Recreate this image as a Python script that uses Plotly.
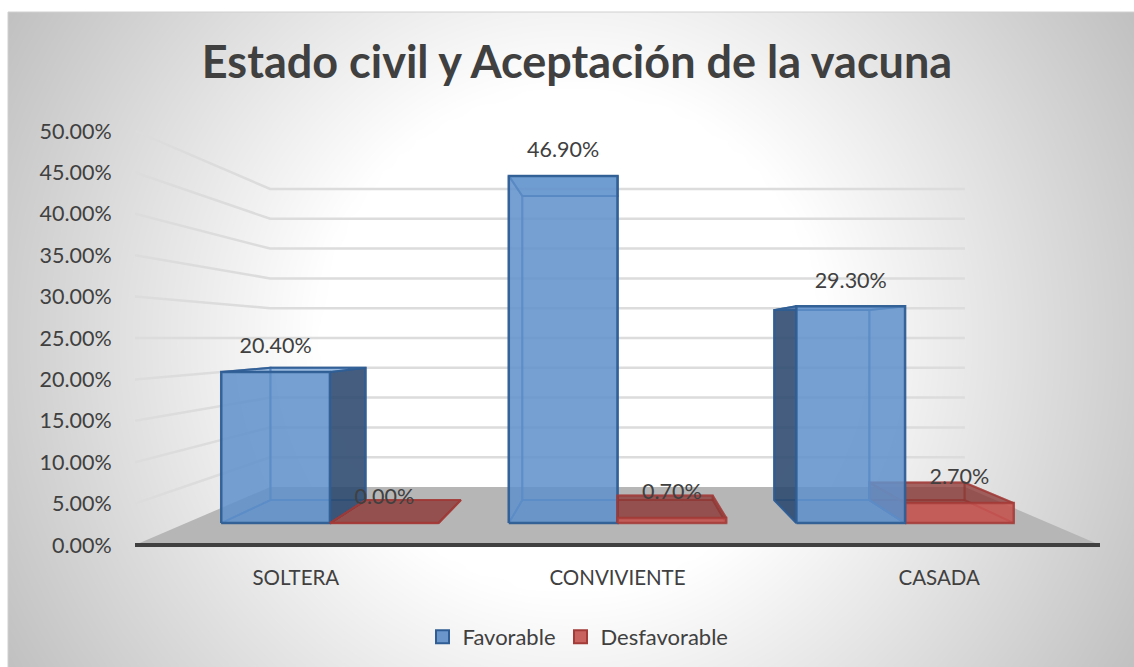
import numpy as np
import plotly.graph_objects as go

CATEGORIAS = ["SOLTERA", "CONVIVIENTE", "CASADA"]
FAVORABLE = [20.4, 46.9, 29.3]
DESFAVORABLE = [0.0, 0.7, 2.7]
TICKS_Y = [0, 5, 10, 15, 20, 25, 30, 35, 40, 45, 50]

TEXTO = "#404040"
FUENTE = "Lato"
ANCHO_BARRA = 0.378
S_BARRA_FRENTE = 0.894
S_BARRA_FONDO = 0.783
S_PARED = 0.72

AZUL = dict(
    frente="rgba(98,146,204,0.82)",
    fondo="rgba(79,129,189,0.25)",
    base="rgba(79,129,189,0.35)",
    tapa="rgba(100,150,210,0.5)",
    lado_ext="rgba(44,72,108,0.85)",
    lado_int="rgba(79,129,189,0.25)",
    borde="rgba(47,93,148,0.9)",
    borde_int="rgba(60,110,175,0.7)",
)
ROJO = dict(
    frente="rgba(200,84,80,0.82)",
    fondo="rgba(150,50,48,0.25)",
    base="rgba(150,50,48,0.35)",
    tapa="rgba(135,50,48,0.65)",
    lado_ext="rgba(120,40,38,0.6)",
    lado_int="rgba(150,50,48,0.3)",
    borde="rgba(163,59,56,0.75)",
    borde_int="rgba(160,55,52,0.5)",
)


# perspectiva: s=1 es el borde frontal del piso, el punto de fuga queda en (centro, 25%)
def punto(c, s, v):
    return 1 + (c - 1) * s, 25 * (1 - s) + s * v


def cara(fig, puntos, relleno, borde, ancho=2):
    xs, ys = zip(*(puntos + puntos[:1]))
    fig.add_trace(
        go.Scatter(
            x=xs,
            y=ys,
            mode="lines",
            fill="toself",
            fillcolor=relleno,
            line=dict(color=borde, width=ancho),
            xaxis="x2",
            yaxis="y2",
            showlegend=False,
            hoverinfo="skip",
            cliponaxis=False,
        )
    )


def linea(fig, xs, ys, color, ancho):
    fig.add_trace(
        go.Scatter(
            x=xs,
            y=ys,
            mode="lines",
            line=dict(color=color, width=ancho),
            xaxis="x2",
            yaxis="y2",
            showlegend=False,
            hoverinfo="skip",
            cliponaxis=False,
        )
    )


def barra(fig, c0, c1, v, col):
    sf, sb = S_BARRA_FRENTE, S_BARRA_FONDO
    cara(fig, [punto(c0, sb, 0), punto(c1, sb, 0), punto(c1, sb, v), punto(c0, sb, v)], col["fondo"], col["borde_int"])
    cara(fig, [punto(c0, sf, 0), punto(c1, sf, 0), punto(c1, sb, 0), punto(c0, sb, 0)], col["base"], col["borde_int"])
    izq_ext = c0 > 1
    der_ext = c1 < 1
    cara(
        fig,
        [punto(c0, sf, 0), punto(c0, sb, 0), punto(c0, sb, v), punto(c0, sf, v)],
        col["lado_ext"] if izq_ext else col["lado_int"],
        col["borde"] if izq_ext else col["borde_int"],
    )
    cara(
        fig,
        [punto(c1, sf, 0), punto(c1, sb, 0), punto(c1, sb, v), punto(c1, sf, v)],
        col["lado_ext"] if der_ext else col["lado_int"],
        col["borde"] if der_ext else col["borde_int"],
    )
    cara(fig, [punto(c0, sf, v), punto(c1, sf, v), punto(c1, sb, v), punto(c0, sb, v)], col["tapa"], col["borde"])
    cara(fig, [punto(c0, sf, 0), punto(c1, sf, 0), punto(c1, sf, v), punto(c0, sf, v)], col["frente"], col["borde"], 2.5)


fig = go.Figure()

# fondo con degradado radial
gx = np.linspace(8, 1134, 70)
gy = np.linspace(12, 667, 42)
radio = np.hypot(*np.meshgrid(gx - 571, gy - 340))
fig.add_trace(
    go.Heatmap(
        x=gx,
        y=gy,
        z=np.clip(255 - 64 * (radio - 250) / 410, 0, 255),
        zmin=0,
        zmax=255,
        zsmooth="best",
        colorscale=[[0, "#000000"], [1, "#FFFFFF"]],
        showscale=False,
        hoverinfo="skip",
    )
)

# piso
cara(fig, [punto(-0.5, 1, 0), punto(2.5, 1, 0), punto(2.5, S_PARED, 0), punto(-0.5, S_PARED, 0)], "#B6B6B6", "rgba(0,0,0,0)", 0)

# lineas de la cuadricula, pared izquierda y pared del fondo
for t in TICKS_Y[1:]:
    p0 = punto(-0.5, 1, t)
    p1 = punto(-0.5, S_PARED, t)
    p2 = punto(2.5, S_PARED, t)
    linea(fig, [p0[0], p1[0], p2[0]], [p0[1], p1[1], p2[1]], "#DCDCDC", 2.5)

for i in range(len(CATEGORIAS)):
    azul = (i - ANCHO_BARRA, i, FAVORABLE[i], AZUL)
    rojo = (i, i + ANCHO_BARRA, DESFAVORABLE[i], ROJO)
    for b in ([rojo, azul] if i > 1 else [azul, rojo]):
        barra(fig, *b)

linea(fig, [-0.5, 2.5], [0, 0], TEXTO, 4)

# etiquetas de datos
for serie, desde in ((FAVORABLE, -ANCHO_BARRA / 2), (DESFAVORABLE, ANCHO_BARRA / 2)):
    pos = [punto(i + desde, S_BARRA_FRENTE, v) for i, v in enumerate(serie)]
    fig.add_trace(
        go.Scatter(
            x=[p[0] for p in pos],
            y=[p[1] + 2.9 for p in pos],
            mode="text",
            text=[f"{v:.2f}%" for v in serie],
            textposition="middle center",
            textfont=dict(family=FUENTE, size=21.5, color=TEXTO),
            xaxis="x2",
            yaxis="y2",
            showlegend=False,
            hoverinfo="skip",
            cliponaxis=False,
        )
    )

# entradas de la leyenda
for nombre, relleno, borde in (
    ("Favorable", "#6A96CC", "#2F5D94"),
    ("Desfavorable", "#C8625F", "#A33B38"),
):
    fig.add_trace(
        go.Scatter(
            x=[None],
            y=[None],
            mode="markers",
            name=nombre,
            marker=dict(symbol="square", size=13, color=relleno, line=dict(color=borde, width=2)),
            xaxis="x2",
            yaxis="y2",
        )
    )

W, H = 1134, 667
fig.update_layout(
    width=W,
    height=H,
    margin=dict(l=0, r=0, t=0, b=0, autoexpand=False),
    paper_bgcolor="#FFFFFF",
    plot_bgcolor="rgba(0,0,0,0)",
    font=dict(family=FUENTE, color=TEXTO),
    title=dict(
        text="<b>Estado civil y Aceptación de la vacuna</b>",
        font=dict(family=FUENTE, size=45, color=TEXTO),
        x=577 / W,
        xanchor="center",
        y=1 - 62 / H,
        yanchor="middle",
    ),
    xaxis=dict(domain=[8 / W, 1], range=[8, 1134], visible=False),
    yaxis=dict(domain=[0, 1 - 12 / H], range=[667, 12], visible=False),
    xaxis2=dict(
        domain=[135 / W, 1100 / W],
        range=[-0.5, 2.5],
        anchor="y2",
        tickvals=list(range(len(CATEGORIAS))),
        ticktext=CATEGORIAS,
        tickfont=dict(family=FUENTE, size=20.5, color=TEXTO),
        ticks="outside",
        ticklen=6,
        tickcolor="rgba(0,0,0,0)",
        showgrid=False,
        zeroline=False,
        showline=False,
    ),
    yaxis2=dict(
        domain=[1 - 553.28 / H, 1 - 131 / H],
        range=[-1, 50],
        anchor="x2",
        tickvals=TICKS_Y,
        ticktext=[f"{t:.2f}%" for t in TICKS_Y],
        tickfont=dict(family=FUENTE, size=21.5, color=TEXTO),
        ticks="outside",
        ticklen=18,
        tickcolor="rgba(0,0,0,0)",
        showgrid=False,
        zeroline=False,
        showline=False,
    ),
    legend=dict(
        orientation="h",
        x=578 / W,
        xanchor="center",
        y=1 - 637 / H,
        yanchor="middle",
        font=dict(family=FUENTE, size=22, color=TEXTO),
        bgcolor="rgba(0,0,0,0)",
    ),
    shapes=[
        dict(
            type="rect",
            xref="paper",
            yref="paper",
            x0=8 / W,
            x1=1.01,
            y0=-0.01,
            y1=1 - 12 / H,
            line=dict(color="#D0D0D0", width=1),
            fillcolor="rgba(0,0,0,0)",
            layer="above",
        )
    ],
)

fig.write_html(
    "out.html",
    config=dict(displayModeBar=False),
    post_script="document.body.style.margin='0';document.body.style.overflow='hidden';",
)
